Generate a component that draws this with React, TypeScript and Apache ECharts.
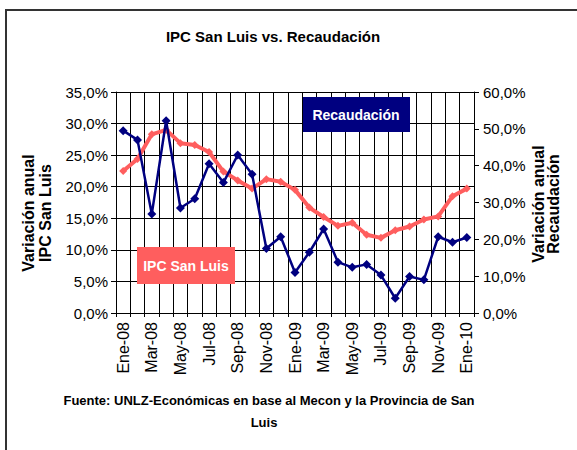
import React, { useEffect, useRef } from "react";
import * as echarts from "echarts";

const months = [
  "Ene-08", "Feb-08", "Mar-08", "Abr-08", "May-08", "Jun-08", "Jul-08", "Ago-08", "Sep-08", "Oct-08", "Nov-08", "Dic-08",
  "Ene-09", "Feb-09", "Mar-09", "Abr-09", "May-09", "Jun-09", "Jul-09", "Ago-09", "Sep-09", "Oct-09", "Nov-09", "Dic-09",
  "Ene-10",
];

const ipcSanLuis = [
  22.5, 24.4, 28.3, 29.0, 26.9, 26.6, 25.5, 22.4, 21.0, 19.7, 21.2, 20.8,
  19.5, 16.7, 15.2, 13.8, 14.3, 12.4, 11.9, 13.1, 13.7, 14.8, 15.3, 18.5,
  19.7,
];

const recaudacion = [
  49.5, 47.0, 26.9, 52.2, 28.5, 31.0, 40.5, 35.4, 42.9, 37.7, 17.5, 20.7,
  11.0, 16.5, 22.8, 13.8, 12.4, 13.2, 10.3, 4.0, 9.9, 9.0, 20.7, 19.2,
  20.5,
];

const titleText = "IPC San Luis vs. Recaudación";
const leftAxisTitle = "Variación anual\nIPC San Luis";
const rightAxisTitle = "Variación anual\nRecaudación";
const footerLine1 = "Fuente: UNLZ-Económicas en base al Mecon y la Provincia de San";
const footerLine2 = "Luis";

const RED = "#FF5E5E";
const NAVY = "#000080";
const FONT = "'Liberation Sans', Arial, sans-serif";

const pct = (v: number) => v.toFixed(1).replace(".", ",") + "%";

export default function App() {
  const ref = useRef<HTMLDivElement>(null);

  useEffect(() => {
    if (!ref.current) return;
    const chart = echarts.init(ref.current, null, { renderer: "svg" });
    chart.setOption({
      animation: false,
      backgroundColor: "#ffffff",
      textStyle: { fontFamily: FONT },
      title: {
        text: titleText,
        left: 268,
        textAlign: "center",
        top: 24,
        textStyle: { fontFamily: FONT, fontSize: 15, fontWeight: "bold", color: "#000" },
      },
      grid: { left: 116, top: 92, width: 358, height: 221, containLabel: false },
      xAxis: {
        type: "category",
        data: months,
        boundaryGap: true,
        axisLine: { lineStyle: { color: "#000", width: 1 } },
        axisTick: { show: true, interval: 0, length: 4, lineStyle: { color: "#000" } },
        axisLabel: {
          interval: 1,
          rotate: 90,
          margin: 9,
          fontSize: 16,
          color: "#000",
          fontFamily: FONT,
        },
        splitLine: { show: true, interval: 0, lineStyle: { color: "#000", width: 1 } },
      },
      yAxis: [
        {
          type: "value",
          min: 0,
          max: 35,
          interval: 5,
          position: "left",
          axisLine: { show: true, lineStyle: { color: "#000" } },
          axisTick: { show: true, length: 5, lineStyle: { color: "#000" } },
          axisLabel: { formatter: pct, fontSize: 15, color: "#000", margin: 8, fontFamily: FONT },
          splitLine: { show: true, lineStyle: { color: "#000", width: 1 } },
        },
        {
          type: "value",
          min: 0,
          max: 60,
          interval: 10,
          position: "right",
          axisLine: { show: true, lineStyle: { color: "#000" } },
          axisTick: { show: true, length: 5, lineStyle: { color: "#000" } },
          axisLabel: { formatter: pct, fontSize: 15, color: "#000", margin: 9, fontFamily: FONT },
          splitLine: { show: false },
        },
      ],
      series: [
        {
          name: "IPC San Luis",
          type: "line",
          yAxisIndex: 0,
          data: ipcSanLuis,
          symbol: "diamond",
          symbolSize: 8,
          lineStyle: { color: RED, width: 4 },
          itemStyle: { color: RED },
          z: 2,
        },
        {
          name: "Recaudación",
          type: "line",
          yAxisIndex: 1,
          data: recaudacion,
          symbol: "diamond",
          symbolSize: 9,
          lineStyle: { color: NAVY, width: 2.5 },
          itemStyle: { color: NAVY },
          z: 3,
        },
      ],
      graphic: [
        { type: "line", shape: { x1: 5, y1: 10, x2: 577, y2: 10 }, style: { stroke: "#333", lineWidth: 2 } },
        { type: "line", shape: { x1: 6, y1: 10, x2: 6, y2: 450 }, style: { stroke: "#333", lineWidth: 2 } },
        {
          type: "rect",
          shape: { x: 303, y: 97, width: 107, height: 35 },
          style: { fill: NAVY },
          z: 10,
        },
        {
          type: "text",
          x: 356,
          y: 114.5,
          z: 11,
          style: {
            text: "Recaudación",
            fill: "#fff",
            fontSize: 14,
            fontWeight: "bold",
            fontFamily: FONT,
            align: "center",
            verticalAlign: "middle",
          },
        },
        {
          type: "rect",
          shape: { x: 137, y: 247, width: 98, height: 37 },
          style: { fill: RED },
          z: 10,
        },
        {
          type: "text",
          x: 186,
          y: 265.5,
          z: 11,
          style: {
            text: "IPC San Luis",
            fill: "#fff",
            fontSize: 14,
            fontWeight: "bold",
            fontFamily: FONT,
            align: "center",
            verticalAlign: "middle",
          },
        },
        {
          type: "text",
          x: 37,
          y: 213,
          rotation: Math.PI / 2,
          style: {
            text: leftAxisTitle,
            fill: "#000",
            fontSize: 16,
            fontWeight: "bold",
            fontFamily: FONT,
            lineHeight: 16.5,
            align: "center",
            verticalAlign: "middle",
          },
        },
        {
          type: "text",
          x: 546,
          y: 204,
          rotation: Math.PI / 2,
          style: {
            text: rightAxisTitle,
            fill: "#000",
            fontSize: 16,
            fontWeight: "bold",
            fontFamily: FONT,
            lineHeight: 15.5,
            align: "center",
            verticalAlign: "middle",
          },
        },
        {
          type: "text",
          x: 269,
          y: 400,
          style: {
            text: footerLine1,
            fill: "#000",
            fontSize: 13,
            fontWeight: "bold",
            fontFamily: FONT,
            align: "center",
            verticalAlign: "middle",
          },
        },
        {
          type: "text",
          x: 264,
          y: 422,
          style: {
            text: footerLine2,
            fill: "#000",
            fontSize: 13,
            fontWeight: "bold",
            fontFamily: FONT,
            align: "center",
            verticalAlign: "middle",
          },
        },
      ],
    });
    return () => chart.dispose();
  }, []);

  return (
    <div
      ref={ref}
      style={{ position: "absolute", left: 0, top: 0, width: 577, height: 450 }}
    />
  );
}
